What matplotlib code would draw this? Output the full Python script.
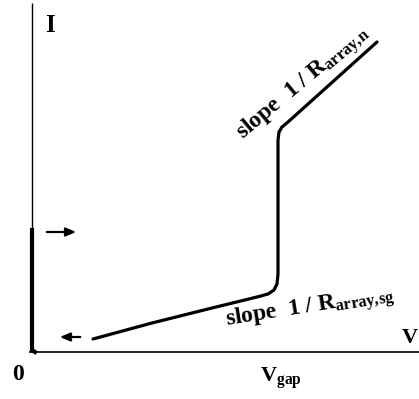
import matplotlib
matplotlib.use("Agg")
import matplotlib.pyplot as plt

plt.rcParams['font.family'] = ['Liberation Serif', 'DejaVu Serif']
plt.rcParams['font.weight'] = 'bold'
plt.rcParams['mathtext.fontset'] = 'custom'
plt.rcParams['mathtext.rm'] = 'Liberation Serif:bold'
plt.rcParams['mathtext.it'] = 'Liberation Serif:bold'
plt.rcParams['mathtext.bf'] = 'Liberation Serif:bold'

# I-V sketch values (arbitrary units, V_gap = 246)
v_gap = 246
branch_v = [61, 120, 180, 225, 236, 242, 245, 246, 246, 246, 247, 250, 256, 345]
branch_i = [13, 29, 44, 55, 58, 62, 68, 78, 150, 212, 220, 225, 230, 310]
supercond_v = [0, 0, 3]
supercond_i = [122, 2, 0]
v_max = 387
i_max = 349

fig = plt.figure(figsize=(4.19, 3.99), dpi=100)
ax = fig.add_axes([0, 0, 1, 1])
ax.set_xlim(-32, 387)
ax.set_ylim(-47, 352)
ax.axis('off')

# axes
ax.plot([-3, v_max], [0, 0], color='black', lw=1.2, solid_capstyle='butt')
ax.plot([0, 0], [0, i_max], color='black', lw=1.0, solid_capstyle='butt')

# superconducting branch and quasiparticle branch
ax.plot(supercond_v, supercond_i, color='black', lw=3.0, solid_joinstyle='round')
ax.plot(branch_v, branch_i, color='black', lw=2.3, solid_capstyle='round',
        solid_joinstyle='round')

# sweep arrows
arrow = dict(arrowstyle='-|>,head_length=0.6,head_width=0.25', color='black', lw=1.6)
ax.annotate('', xy=(47, 120), xytext=(12, 120), arrowprops=arrow)
ax.annotate('', xy=(25, 15), xytext=(51, 15), arrowprops=arrow)

# labels
ax.text(18, 327, 'I', fontsize=18, ha='center', va='center')
ax.text(-14, -22, '0', fontsize=17, ha='center', va='center')
ax.text(378, 14, 'V', fontsize=16, ha='center', va='center')
ax.text(228, -30, r'V$_{\mathregular{gap}}$', fontsize=16, ha='left', va='baseline')
ax.text(211, 212, r'slope  1 / R$_{\mathregular{array{,}n}}$', fontsize=17,
        rotation=40, rotation_mode='anchor', ha='left', va='baseline')
ax.text(195, 26, r'slope  1 / R$_{\mathregular{array{,}sg}}$', fontsize=17,
        rotation=9, rotation_mode='anchor', ha='left', va='baseline')

fig.savefig('out.png', dpi=100)
